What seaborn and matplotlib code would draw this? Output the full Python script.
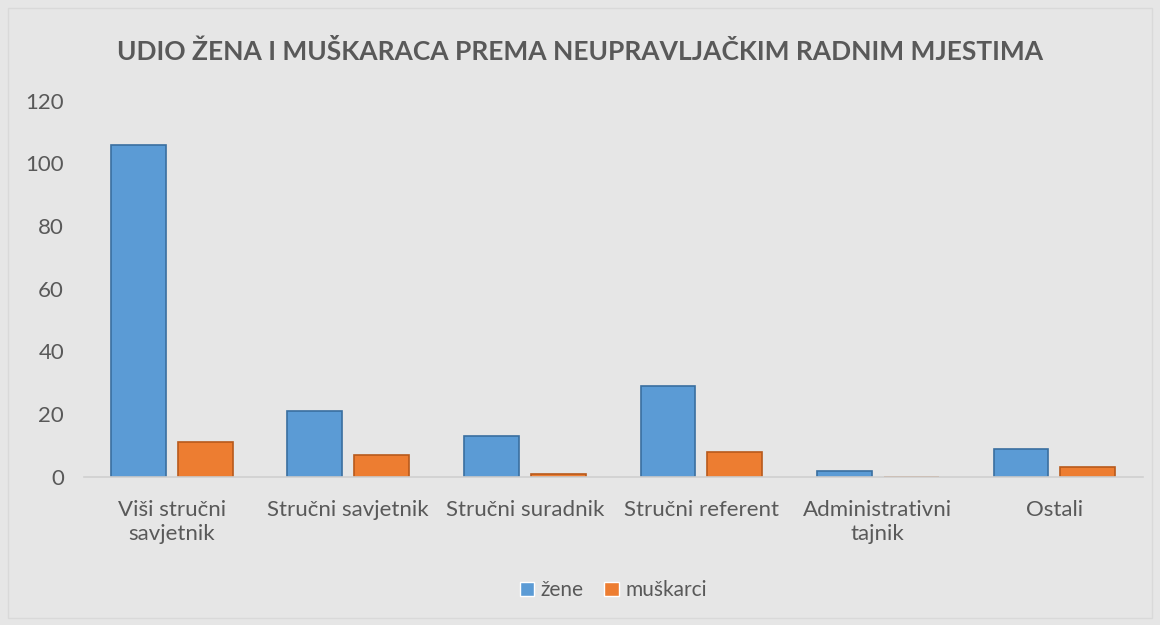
import matplotlib
matplotlib.use("Agg")
import matplotlib.pyplot as plt
import seaborn as sns
import pandas as pd
from matplotlib.patches import Rectangle

categories = ["Viši stručni\nsavjetnik", "Stručni savjetnik", "Stručni suradnik",
              "Stručni referent", "Administrativni\ntajnik", "Ostali"]
zene = [106, 21, 13, 29, 2, 9]
muskarci = [11, 7, 1, 8, 0, 3]
series = ["žene", "muškarci"]
title = "UDIO ŽENA I MUŠKARACA PREMA NEUPRAVLJAČKIM RADNIM MJESTIMA"

df = pd.DataFrame({
    "kategorija": categories * 2,
    "vrijednost": zene + muskarci,
    "spol": [series[0]] * len(categories) + [series[1]] * len(categories),
})

sns.set_theme(style="white")
plt.rcParams["font.family"] = ["Lato", "DejaVu Sans"]

bg = "#e6e6e6"
txt = "#595959"
fig = plt.figure(figsize=(11.6, 6.25), dpi=100, facecolor=bg)
ax = fig.add_axes([0.072, 0.237, 0.913, 0.602])
ax.set_facecolor(bg)

palette = {"žene": "#5b9bd5", "muškarci": "#ed7d31"}
sns.barplot(data=df, x="kategorija", y="vrijednost", hue="spol", order=categories,
            hue_order=series, palette=palette, width=0.757, gap=0.18, ax=ax,
            saturation=1, legend=True)
edge = {"žene": "#3a6fa0", "muškarci": "#b85a1c"}
for cont, s in zip(ax.containers, series):
    for b in cont:
        b.set_edgecolor(edge[s])
        b.set_linewidth(1.2)

ax.set_ylim(0, 120)
ax.set_yticks(range(0, 121, 20))
ax.set_xlim(-0.5, len(categories) - 0.5)
ax.set_xlabel("")
ax.set_ylabel("")
for sp in ["top", "right", "left"]:
    ax.spines[sp].set_visible(False)
ax.spines["bottom"].set_color("#d0d0d0")
ax.spines["bottom"].set_linewidth(1.2)
ax.tick_params(axis="both", length=0, colors=txt, labelsize=16)
ax.tick_params(axis="x", pad=17)
ax.tick_params(axis="y", pad=14)

leg = ax.legend(loc="upper center", bbox_to_anchor=(0.5, -0.225), ncol=2, frameon=False,
                fontsize=15, handlelength=0.7, handleheight=0.7, handletextpad=0.3,
                columnspacing=1.0)
for t in leg.get_texts():
    t.set_color(txt)

fig.text(0.5, 0.918, title, ha="center", va="center", fontsize=19, fontweight="bold", color=txt)
fig.patches.append(Rectangle((0.007, 0.012), 0.986, 0.976, transform=fig.transFigure,
                             fill=False, edgecolor="#d9d9d9", linewidth=1))

fig.savefig("out.png", dpi=100, facecolor=bg)
